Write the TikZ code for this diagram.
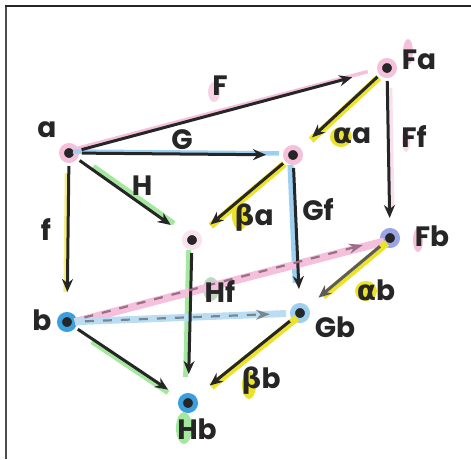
\documentclass[tikz,border=0pt]{standalone}
\usepackage{fontspec}
\setmainfont{Poppins}
\newfontfamily\grk{DejaVu Sans}
\usetikzlibrary{arrows.meta}
\definecolor{pinkc}{HTML}{F5C0DC}
\definecolor{pinkd}{HTML}{E8A0C8}
\definecolor{bluec}{HTML}{9CCFF0}
\definecolor{blued}{HTML}{3A9FDF}
\definecolor{lavc}{HTML}{9AA4E6}
\definecolor{greenc}{HTML}{A4E8A0}
\definecolor{yelc}{HTML}{EDE22A}
\definecolor{ink}{HTML}{262626}
\tikzset{
  pt/.style={circle, fill=ink, draw=#1, line width=5pt, minimum size=15pt, inner sep=0pt},
  lab/.style={text=ink, font=\fontsize{28}{28}\selectfont\bfseries, inner sep=1pt},
  arr/.style={draw=ink, line width=3pt, -{Stealth[length=13pt,width=11pt]}, shorten <=3pt, shorten >=8pt},
  hl/.style={draw=#1, line width=5pt, shorten <=4pt, shorten >=14pt},
  dsh/.style={draw=#1, line width=2.2pt, dash pattern=on 9pt off 9pt, -{Stealth[open,length=14pt,width=10pt]}, shorten <=8pt, shorten >=10pt},
  blob/.style={fill=#1}
}
\begin{document}
\begin{tikzpicture}[x=1pt,y=-1pt]
\useasboundingbox (0,0) rectangle (471,459);
\draw[gray!60!black, line width=2pt] (6,459) -- (6,6);
\draw[ink, line width=1.2pt] (5,6) -- (471,6);

% points
\node[pt=pinkc] (a) at (69,153) {};
\node[pt=pinkc] (Fa) at (387,68) {};
\node[pt=pinkc] (Ga) at (293,155) {};
\node[pt=pinkc!45] (Ha) at (192,240) {};
\node[pt=lavc] (Fb) at (390,238) {};
\node[pt=blued] (b) at (67,322) {};
\node[pt=bluec] (Gb) at (300,313) {};
\node[pt=blued] (Hb) at (188,403) {};

% label blobs
\fill[blob=yelc] (341,137) ellipse (11 and 10);
\fill[blob=yelc] (240,216) ellipse (8 and 14);
\fill[blob=yelc] (366,291) ellipse (11 and 10);
\fill[blob=yelc] (249,385) ellipse (7 and 14);
\fill[blob=greenc] (184,428) ellipse (8 and 16);
\fill[blob=greenc!60!gray!60] (211,289) ellipse (8 and 12);
\fill[blob=pinkc] (408,52) ellipse (5 and 13);
\fill[blob=pinkc] (418,240) ellipse (5 and 12);
\fill[blob=pinkc!70] (214,92) ellipse (6 and 10);
\fill[blob=pinkc!60] (406,140) ellipse (4 and 12);

% highlights
\draw[hl=pinkc, line width=3.5pt, shorten >=20pt] ([yshift=2.5pt]a.center) -- ([yshift=1.5pt]Fa.center);
\draw[hl=bluec, line width=4.5pt] ([yshift=1.5pt]a.center) -- ([yshift=1.5pt]Ga.center);
\draw[hl=greenc, shorten <=30pt, shorten >=22pt] ([yshift=4pt]a.center) -- ([yshift=4pt]Ha.center);
\draw[hl=yelc!60, line width=4pt, shorten <=20pt, shorten >=30pt] ([xshift=-2pt]a.center) -- ([xshift=-2pt]b.center);
\draw[hl=yelc, line width=7pt, shorten <=14pt, shorten >=22pt] ([xshift=2pt]Fa.center) -- ([xshift=2pt]Ga.center);
\draw[hl=yelc, line width=7pt, shorten <=14pt, shorten >=22pt] ([xshift=2pt]Ga.center) -- ([xshift=2pt]Ha.center);
\draw[hl=pinkc!50, line width=4pt, shorten <=20pt, shorten >=30pt] ([xshift=3pt]Fa.center) -- ([xshift=3pt]Fb.center);
\draw[hl=bluec, line width=6pt, shorten <=10pt, shorten >=30pt] ([xshift=-3pt]Ga.center) -- ([xshift=-3pt]Gb.center);
\draw[hl=greenc, shorten <=10pt, shorten >=26pt] ([xshift=-3pt]Ha.center) -- ([xshift=-3pt]Hb.center);
\draw[hl=pinkc, line width=8pt, shorten <=8pt, shorten >=6pt] ([yshift=-2pt]b.center) -- ([yshift=-2pt]Fb.center);
\draw[hl=bluec!70, line width=7pt, shorten <=8pt, shorten >=14pt] (b.center) -- (Gb.center);
\draw[hl=greenc, line width=5pt, shorten <=30pt, shorten >=24pt] ([yshift=-3pt]b.center) -- ([yshift=-3pt]Hb.center);
\draw[hl=yelc, line width=7pt, shorten <=8pt, shorten >=26pt] ([xshift=3pt]Fb.center) -- ([xshift=3pt]Gb.center);
\draw[hl=yelc, line width=7pt, shorten <=8pt, shorten >=26pt] ([xshift=3pt]Gb.center) -- ([xshift=3pt]Hb.center);

% arrows
\draw[arr, shorten >=26pt] (a) -- (Fa);
\draw[arr, shorten >=17pt] (a) -- (Ga);
\draw[arr, shorten >=16pt] (a) -- (Ha);
\draw[arr, shorten >=20pt] (a) -- (b);
\draw[arr, shorten >=16pt] (Fa) -- (Ga);
\draw[arr, shorten >=14pt] (Ga) -- (Ha);
\draw[arr, shorten >=10pt] (Fa) -- (Fb);
\draw[arr, shorten >=14pt] (Ga) -- (Gb);
\draw[arr, shorten >=19pt] (Ha) -- (Hb);
\draw[arr, shorten >=14pt] (b) -- (Hb);
\draw[arr, draw=ink!75, shorten >=14pt] (Fb) -- (Gb);
\draw[arr, shorten >=18pt] (Gb) -- (Hb);
\draw[dsh=pinkd!60!ink, shorten >=18pt] (b) -- (Fb);
\draw[dsh=bluec!40!ink!80, shorten >=20pt] (b) -- (Gb);

% labels
\node[lab] (la) at (47,130) {a};
\node[lab] (lF) at (220,86) {F};
\node[lab] (lG) at (182,140) {G};
\node[lab] (lH) at (142,186) {H};
\node[lab] (lf) at (46,230) {f};
\node[lab] (lFa) at (419,60) {Fa};
\node[lab] (laa) at (352,136) {{\grk α}a};
\node[lab] (lFf) at (414,137) {Ff};
\node[lab] (lba) at (254,218) {{\grk β}a};
\node[lab] (lGf) at (318,210) {Gf};
\node[lab] (lFb) at (432,236) {Fb};
\node[lab] (lab) at (376,290) {{\grk α}b};
\node[lab] (lb) at (42,320) {b};
\node[lab] (lHf) at (220,292) {Hf};
\node[lab] (lGb) at (335,327) {Gb};
\node[lab] (lbb) at (261,381) {{\grk β}b};
\node[lab] (lHb) at (197,429) {Hb};
\end{tikzpicture}
\end{document}
